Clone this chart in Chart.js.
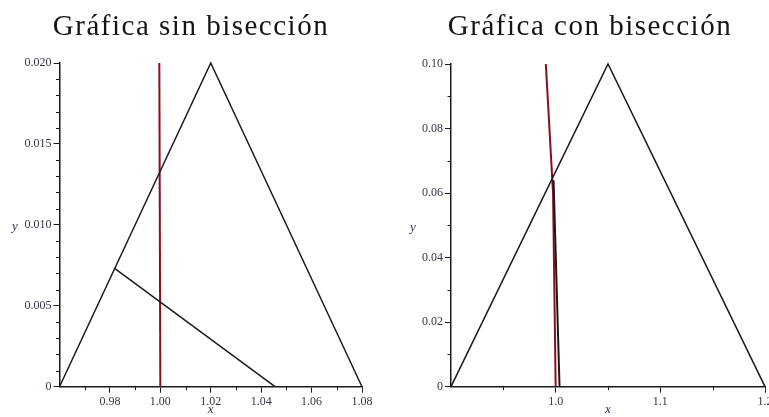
<!DOCTYPE html>
<html><head><meta charset="utf-8">
<script src="https://cdn.jsdelivr.net/npm/chart.js@4.4.0/dist/chart.umd.min.js"></script>
<style>
html,body{margin:0;padding:0;background:#fff;overflow:hidden;width:769px;height:417px}
#c1{position:absolute;left:0;top:0}
#c2{position:absolute;left:385px;top:0}
</style></head><body>
<canvas id="c1" width="385" height="417"></canvas>
<canvas id="c2" width="400" height="417"></canvas>
<script>
// ---- Left chart data ("Gráfica sin bisección") ----
const leftTitle = "Gráfica sin bisección";
const leftTriangleX = [0.96, 1.02, 1.08];
const leftTriangleY = [0, 0.02, 0];
const leftInnerX = [0.982, 1.0455];
const leftInnerY = [0.0073, 0];
const leftRedX = [0.9996, 1.0];
const leftRedY = [0.02, 0];
const leftXTicks = [0.98, 1.00, 1.02, 1.04, 1.06, 1.08];
const leftXLabels = ["0.98", "1.00", "1.02", "1.04", "1.06", "1.08"];
const leftXMinor = [0.97, 0.99, 1.01, 1.03, 1.05, 1.07];
const leftYTicks = [0, 0.005, 0.010, 0.015, 0.020];
const leftYLabels = ["0", "0.005", "0.010", "0.015", "0.020"];
const leftYMinor = [0.001, 0.002, 0.003, 0.004, 0.006, 0.007, 0.008, 0.009, 0.011, 0.012, 0.013, 0.014, 0.016, 0.017, 0.018, 0.019];

// ---- Right chart data ("Gráfica con bisección") ----
const rightTitle = "Gráfica con bisección";
const rightTriangleX = [0.9, 1.05, 1.2];
const rightTriangleY = [0, 0.1, 0];
const rightInnerX = [0.998, 1.0037];
const rightInnerY = [0.064, 0];
const rightRedX = [0.9906, 0.9975, 1.0];
const rightRedY = [0.10, 0.06, 0];
const rightXTicks = [1.0, 1.1, 1.2];
const rightXLabels = ["1.0", "1.1", "1.2"];
const rightXMinor = [0.95, 1.05, 1.15];
const rightYTicks = [0, 0.02, 0.04, 0.06, 0.08, 0.10];
const rightYLabels = ["0", "0.02", "0.04", "0.06", "0.08", "0.10"];
const rightYMinor = [0.01, 0.03, 0.05, 0.07, 0.09];

const RED = '#8a0f1c';
const INK = '#1a1a1a';
const LBL = '#33364a';
const SERIF = "'Liberation Serif', 'DejaVu Serif', serif";

function pts(xs, ys) { return xs.map((x, i) => ({ x: x, y: ys[i] })); }

function scale(axis, min, max, majors, labels, size, minors) {
  return {
    type: 'linear', min: min, max: max,
    minorTicks: minors,
    afterBuildTicks: s => { s.ticks = majors.map(v => ({ value: v })); },
    ticks: {
      autoSkip: false, maxRotation: 0, minRotation: 0, color: LBL, padding: 2,
      font: { family: SERIF, size: 12 },
      callback: (v, i) => labels[i]
    },
    grid: { display: true, drawOnChartArea: false, drawTicks: true, tickLength: 6, color: INK, lineWidth: 1 },
    border: { display: true, color: INK, width: 1.5 },
    title: axis === 'x' ? { display: true, text: 'x', color: LBL, padding: { top: 0, bottom: 0 }, font: { family: SERIF, size: 13, style: 'italic' } } : { display: false },
    afterFit: s => { if (axis === 'x') s.height = size; else s.width = size; }
  };
}

const minorPlugin = {
  id: 'minorTicks',
  afterDraw(chart) {
    const ctx = chart.ctx;
    ctx.save();
    ctx.strokeStyle = INK; ctx.lineWidth = 1;
    const xs = chart.scales.x, ys = chart.scales.y;
    (xs.options.minorTicks || []).forEach(v => {
      const px = Math.round(xs.getPixelForValue(v)) + 0.5;
      ctx.beginPath(); ctx.moveTo(px, xs.top); ctx.lineTo(px, xs.top + 3.5); ctx.stroke();
    });
    (ys.options.minorTicks || []).forEach(v => {
      const py = Math.round(ys.getPixelForValue(v)) + 0.5;
      ctx.beginPath(); ctx.moveTo(ys.right, py); ctx.lineTo(ys.right - 3.5, py); ctx.stroke();
    });
    ctx.restore();
  }
};

function textPlugin(title, titleX, yLabX) {
  return {
    id: 'texts',
    afterDraw(chart) {
      const ctx = chart.ctx;
      ctx.save();
      ctx.fillStyle = '#151515';
      ctx.font = "29px " + SERIF;
      try { ctx.letterSpacing = '1.5px'; } catch (e) {}
      ctx.textAlign = 'center'; ctx.textBaseline = 'alphabetic';
      ctx.fillText(title, titleX, 35);
      try { ctx.letterSpacing = '0px'; } catch (e) {}
      const ys = chart.scales.y;
      ctx.fillStyle = LBL;
      ctx.font = "italic 13px " + SERIF;
      ctx.textBaseline = 'middle';
      ctx.fillText('y', yLabX, (ys.top + ys.bottom) / 2 + 2);
      ctx.restore();
    }
  };
}

function make(id, cfg) {
  return new Chart(document.getElementById(id), {
    type: 'scatter',
    data: {
      datasets: [
        { data: pts(cfg.triX, cfg.triY), showLine: true, borderColor: INK, borderWidth: 1.5, pointRadius: 0, clip: false },
        { data: pts(cfg.inX, cfg.inY), showLine: true, borderColor: INK, borderWidth: cfg.inW, pointRadius: 0, clip: false },
        { data: pts(cfg.redX, cfg.redY), showLine: true, borderColor: RED, borderWidth: 2, pointRadius: 0, clip: false }
      ]
    },
    options: {
      responsive: false, animation: false,
      layout: { padding: { left: 0, top: cfg.top, right: cfg.right, bottom: 0 } },
      plugins: { legend: { display: false }, tooltip: { enabled: false }, title: { display: false } },
      scales: {
        x: scale('x', cfg.xmin, cfg.xmax, cfg.xt, cfg.xl, cfg.xh, cfg.xm),
        y: scale('y', cfg.ymin, cfg.ymax, cfg.yt, cfg.yl, cfg.yw, cfg.ym)
      }
    },
    plugins: [minorPlugin, textPlugin(cfg.title, cfg.titleX, cfg.yLabX)]
  });
}

make('c1', {
  triX: leftTriangleX, triY: leftTriangleY, inX: leftInnerX, inY: leftInnerY, inW: 1.5,
  redX: leftRedX, redY: leftRedY,
  xmin: 0.96, xmax: 1.08, xt: leftXTicks, xl: leftXLabels, xm: leftXMinor, xh: 30.3,
  ymin: 0, ymax: 0.02, yt: leftYTicks, yl: leftYLabels, ym: leftYMinor, yw: 59.5,
  top: 63, right: 23, title: leftTitle, titleX: 191, yLabX: 15
});
make('c2', {
  triX: rightTriangleX, triY: rightTriangleY, inX: rightInnerX, inY: rightInnerY, inW: 2,
  redX: rightRedX, redY: rightRedY,
  xmin: 0.9, xmax: 1.2, xt: rightXTicks, xl: rightXLabels, xm: rightXMinor, xh: 30.3,
  ymin: 0, ymax: 0.1, yt: rightYTicks, yl: rightYLabels, ym: rightYMinor, yw: 66,
  top: 64, right: 20, title: rightTitle, titleX: 205, yLabX: 28
});
</script>
</body></html>
